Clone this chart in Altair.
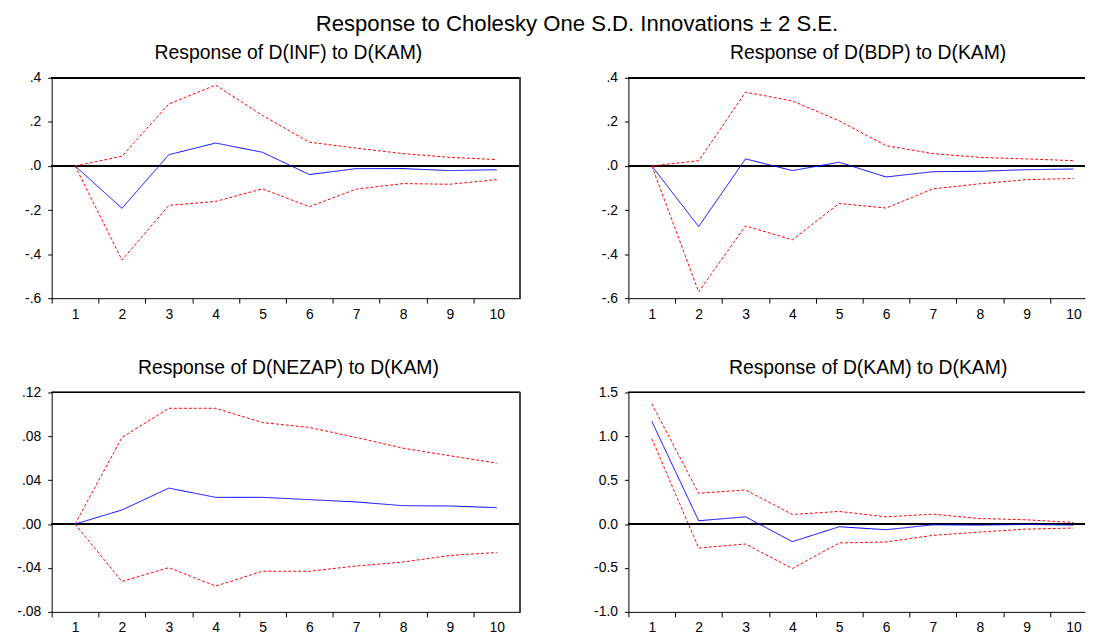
import altair as alt
import pandas as pd

periods = list(range(1, 11))

inf_resp = [0.0, -0.192, 0.051, 0.104, 0.062, -0.039, -0.012, -0.012, -0.021, -0.017]
inf_upper = [0.0, 0.044, 0.281, 0.367, 0.229, 0.108, 0.081, 0.056, 0.039, 0.029]
inf_lower = [0.0, -0.427, -0.179, -0.161, -0.104, -0.185, -0.105, -0.080, -0.083, -0.062]

bdp_resp = [0.0, -0.275, 0.032, -0.021, 0.017, -0.050, -0.026, -0.024, -0.017, -0.014]
bdp_upper = [0.0, 0.024, 0.335, 0.295, 0.205, 0.092, 0.056, 0.039, 0.032, 0.024]
bdp_lower = [0.0, -0.571, -0.272, -0.335, -0.170, -0.191, -0.104, -0.081, -0.062, -0.057]

nezap_resp = [0.0, 0.0129, 0.0328, 0.0244, 0.0244, 0.0223, 0.0202, 0.0168, 0.0165, 0.0150]
nezap_upper = [0.0, 0.0790, 0.1056, 0.1056, 0.0926, 0.0881, 0.0790, 0.0692, 0.0623, 0.0556]
nezap_lower = [0.0, -0.0523, -0.0397, -0.0565, -0.0430, -0.0430, -0.0382, -0.0346, -0.0286, -0.0259]

kam_resp = [1.171, 0.038, 0.083, -0.200, -0.030, -0.064, -0.008, -0.011, -0.004, -0.011]
kam_upper = [1.371, 0.351, 0.389, 0.110, 0.144, 0.083, 0.113, 0.064, 0.049, 0.019]
kam_lower = [0.974, -0.272, -0.227, -0.506, -0.215, -0.204, -0.128, -0.091, -0.057, -0.045]

panel_titles = [
    "Response of D(INF) to D(KAM)",
    "Response of D(BDP) to D(KAM)",
    "Response of D(NEZAP) to D(KAM)",
    "Response of D(KAM) to D(KAM)",
]
main_title = "Response to Cholesky One S.D. Innovations \u00b1 2 S.E."

y_domains = [[-0.6, 0.4], [-0.6, 0.4], [-0.08, 0.12], [-1.0, 1.5]]
y_ticks = [
    [-0.6, -0.4, -0.2, 0.0, 0.2, 0.4],
    [-0.6, -0.4, -0.2, 0.0, 0.2, 0.4],
    [-0.08, -0.04, 0.0, 0.04, 0.08, 0.12],
    [-1.0, -0.5, 0.0, 0.5, 1.0, 1.5],
]
y_label_exprs = [
    "replace(replace(format(datum.value,'.1f'),'\u2212','-'),'0.','.')",
    "replace(replace(format(datum.value,'.1f'),'\u2212','-'),'0.','.')",
    "replace(replace(format(datum.value,'.2f'),'\u2212','-'),'0.','.')",
    "replace(format(datum.value,'.1f'),'\u2212','-')",
]

FONT = "Liberation Sans"
LEFT_W = 472
RIGHT_W = 460
BAND = LEFT_W / 10.0


def panel(resp, upper, lower, title, ydom, yvals, yexpr, width, height, right_side):
    rows = []
    for name, vals in (("resp", resp), ("upper", upper), ("lower", lower)):
        for p, v in zip(periods, vals):
            rows.append({"period": p, "value": v, "series": name})
    df = pd.DataFrame(rows)

    xmax = 0.5 + width / BAND
    xticks = [0.5 + 0.5 * i for i in range(20) if 0.5 + 0.5 * i <= xmax + 1e-9]

    x_enc = alt.X(
        "period:Q",
        scale=alt.Scale(domain=[0.5, xmax], nice=False, zero=False),
        axis=alt.Axis(
            values=xticks,
            title=None,
            grid=False,
            tickSize=5,
            labelPadding=4,
            labelExpr="datum.value % 1 === 0 ? format(datum.value, 'd') : ''",
            tickOpacity={"condition": {"test": "datum.value % 1 === 0", "value": 0}, "value": 1},
            labelFlush=False,
            labelOverlap=False,
        ),
    )
    y_enc = alt.Y(
        "value:Q",
        scale=alt.Scale(domain=ydom, nice=False, zero=False),
        axis=alt.Axis(
            values=yvals,
            title=None,
            grid=False,
            tickSize=4,
            labelPadding=7,
            labelExpr=yexpr,
            labelFlush=False,
            labelOverlap=False,
        ),
    )

    base = alt.Chart(df)
    zero = base.mark_rule(color="black", strokeWidth=1).encode(y=alt.datum(0))
    lines = base.mark_line(strokeWidth=1, clip=True).encode(
        x=x_enc,
        y=y_enc,
        detail="series:N",
        color=alt.Color(
            "series:N",
            scale=alt.Scale(domain=["resp", "upper", "lower"], range=["#0000ff", "#ff0000", "#ff0000"]),
            legend=None,
        ),
        strokeDash=alt.StrokeDash(
            "series:N",
            scale=alt.Scale(domain=["resp", "upper", "lower"], range=[[1, 0], [3, 2], [3, 2]]),
            legend=None,
        ),
    )
    top = alt.Chart(df).mark_rule(color="black", strokeWidth=1).encode(
        x=alt.value(0), x2=alt.value(width), y=alt.value(0)
    )
    layers = [zero, lines, top]
    if not right_side:
        rside = alt.Chart(df).mark_rule(color="#444444", strokeWidth=1.5).encode(
            x=alt.value(width), y=alt.value(0), y2=alt.value(height)
        )
        layers.append(rside)
    dx = 2.5 if not right_side else 11.5
    return alt.layer(*layers).properties(
        width=width,
        height=height,
        title=alt.TitleParams(
            text=title,
            anchor="middle",
            baseline="alphabetic",
            offset=-8,
            dx=dx,
        ),
    )


p1 = panel(inf_resp, inf_upper, inf_lower, panel_titles[0], y_domains[0], y_ticks[0], y_label_exprs[0], LEFT_W, 222, False)
p2 = panel(bdp_resp, bdp_upper, bdp_lower, panel_titles[1], y_domains[1], y_ticks[1], y_label_exprs[1], RIGHT_W, 222, True)
p3 = panel(nezap_resp, nezap_upper, nezap_lower, panel_titles[2], y_domains[2], y_ticks[2], y_label_exprs[2], LEFT_W, 221, False)
p4 = panel(kam_resp, kam_upper, kam_lower, panel_titles[3], y_domains[3], y_ticks[3], y_label_exprs[3], RIGHT_W, 221, True)

chart = (
    alt.concat(p1, p2, p3, p4, columns=2, spacing={"row": 95, "column": 109}, bounds="flush")
    .properties(
        title=alt.TitleParams(
            text=main_title,
            anchor="middle",
            fontSize=22.3,
            font=FONT,
            fontWeight="normal",
            color="black",
            dx=26,
            offset=8,
        ),
        padding={"left": 8, "top": 3, "right": 0, "bottom": 0},
    )
    .configure_view(strokeWidth=0)
    .configure_axis(
        labelFont=FONT,
        labelFontSize=14,
        labelColor="black",
        domainColor="black",
        tickColor="black",
        domainWidth=1,
        tickWidth=1,
    )
    .configure_title(font=FONT, fontSize=19.5, fontWeight="normal", color="black")
)

chart.save("out.html", embed_options={"renderer": "svg", "actions": False})
